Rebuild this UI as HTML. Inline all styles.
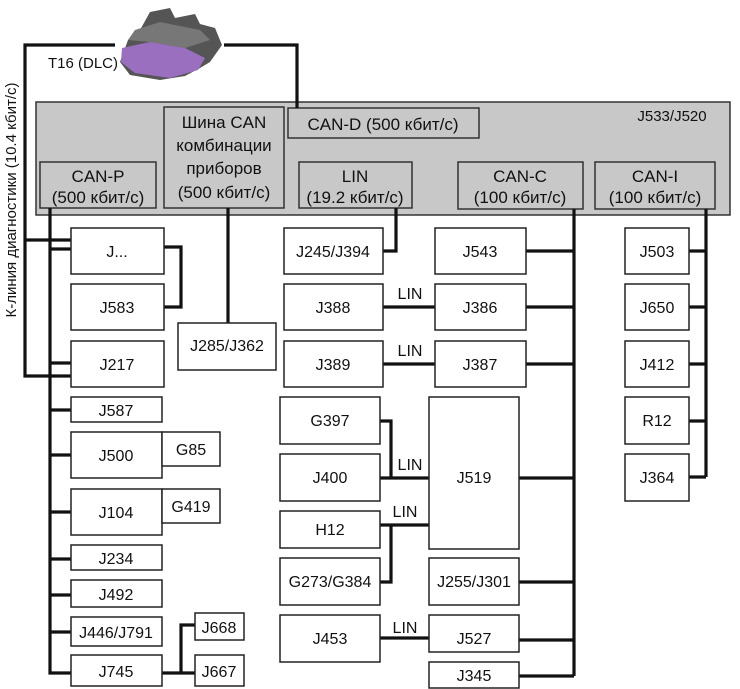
<!DOCTYPE html>
<html><head><meta charset="utf-8"><style>
html,body{margin:0;padding:0;background:#fff;}
svg{display:block;font-family:"Liberation Sans","DejaVu Sans",sans-serif;}
.b{fill:#fff;stroke:#222;stroke-width:1.5}
.g{fill:#c8c8c8;stroke:#333;stroke-width:1.5}
.l{stroke:#111;stroke-width:3.2;fill:none}
text{font-size:16px;fill:#111;text-anchor:middle}
</style></head><body>
<svg width="740" height="689" viewBox="0 0 740 689">
<rect class="g" x="36" y="102" width="694" height="113"/>
<text x="672" y="121" style="font-size:15px">J533/J520</text>
<rect class="g" x="288" y="108" width="191" height="30"/>
<text x="383" y="130" style="font-size:17px">CAN-D (500 кбит/с)</text>
<rect class="g" x="164" y="107" width="120" height="101"/>
<text x="224" y="128" style="font-size:17px">Шина CAN</text>
<text x="224" y="151" style="font-size:17px">комбинации</text>
<text x="224" y="174" style="font-size:17px">приборов</text>
<text x="224" y="198" style="font-size:17px">(500 кбит/с)</text>
<rect class="g" x="40" y="162" width="116" height="46"/>
<text x="98" y="182" style="font-size:17px">CAN-P</text>
<text x="98" y="203" style="font-size:17px">(500 кбит/с)</text>
<rect class="g" x="299" y="162" width="113" height="46"/>
<text x="355" y="182" style="font-size:17px">LIN</text>
<text x="355" y="203" style="font-size:17px">(19.2 кбит/с)</text>
<rect class="g" x="458" y="162" width="125" height="47"/>
<text x="520" y="182" style="font-size:17px">CAN-C</text>
<text x="520" y="203" style="font-size:17px">(100 кбит/с)</text>
<rect class="g" x="595" y="162" width="120" height="47"/>
<text x="655" y="182" style="font-size:17px">CAN-I</text>
<text x="655" y="203" style="font-size:17px">(100 кбит/с)</text>

<g>
<polygon points="150,12 170,8 175,18 195,14 200,24 215,28 222,45 210,62 200,68 185,76 160,80 130,75 120,62 128,40 140,30" fill="#555"/>
<polygon points="122,48 150,42 185,48 205,58 198,70 170,78 135,73 121,62" fill="#9a6fc0"/>
<polygon points="135,30 160,22 200,30 210,40 185,48 150,42 128,40" fill="#777"/>
</g>
<text x="83" y="68" style="font-size:15px">T16 (DLC)</text>
<text transform="translate(16,200) rotate(-90)" style="font-size:15px">К-линия диагностики (10.4 кбит/с)</text>

<path class="l" d="M115,45 H25 V376 H71 M25,240 H71"/>
<path class="l" d="M224,45 H297 V108"/>
<path class="l" d="M50,208 V673 H71 M50,249 H71 M50,363 H71 M50,410 H71 M50,455 H71 M50,512 H71 M50,559 H71 M50,595 H71 M50,632 H71"/>
<path class="l" d="M164,247 H181 V307 H164"/>
<path class="l" d="M162,673 H195 M181,673 V625 H195"/>
<path class="l" d="M228,208 V323"/>
<path class="l" d="M383,251 H396 V208"/>
<path class="l" d="M383,307 H435 M383,364 H435"/>
<path class="l" d="M380,421 H391 V478 M380,478 H429"/>
<path class="l" d="M380,525 H429 M391,525 V582 H380"/>
<path class="l" d="M380,638 H429"/>
<path class="l" d="M574,209 V676 M526,251 H574 M526,307 H574 M526,364 H574 M519,478 H574 M519,582 H574 M519,640 H574 M519,676 H574"/>
<path class="l" d="M706,209 V477 M689,251 H706 M689,307 H706 M689,364 H706 M689,421 H706 M689,477 H706"/>

<rect class="b" x="71" y="228" width="93" height="46"/><text x="117" y="257">J...</text>
<rect class="b" x="71" y="284" width="93" height="46"/><text x="117" y="313">J583</text>
<rect class="b" x="71" y="341" width="93" height="46"/><text x="117" y="370">J217</text>
<rect class="b" x="71" y="397" width="91" height="25"/><text x="116" y="416">J587</text>
<rect class="b" x="71" y="432" width="91" height="46"/><text x="116" y="461">J500</text>
<rect class="b" x="162" y="432" width="58" height="34"/><text x="191" y="455">G85</text>
<rect class="b" x="71" y="489" width="91" height="46"/><text x="116" y="518">J104</text>
<rect class="b" x="162" y="489" width="58" height="34"/><text x="191" y="512">G419</text>
<rect class="b" x="71" y="545" width="91" height="25"/><text x="116" y="564">J234</text>
<rect class="b" x="71" y="580" width="91" height="27"/><text x="116" y="600">J492</text>
<rect class="b" x="71" y="617" width="91" height="29"/><text x="116" y="638">J446/J791</text>
<rect class="b" x="71" y="655" width="91" height="31"/><text x="116" y="677">J745</text>
<rect class="b" x="195" y="613" width="49" height="27"/><text x="219" y="633">J668</text>
<rect class="b" x="195" y="655" width="49" height="31"/><text x="219" y="677">J667</text>
<rect class="b" x="178" y="323" width="98" height="47"/><text x="227" y="351">J285/J362</text>

<rect class="b" x="284" y="228" width="99" height="46"/><text x="333" y="257">J245/J394</text>
<rect class="b" x="284" y="284" width="99" height="46"/><text x="333" y="313">J388</text>
<rect class="b" x="284" y="341" width="99" height="46"/><text x="333" y="370">J389</text>
<rect class="b" x="435" y="228" width="91" height="46"/><text x="480" y="257">J543</text>
<rect class="b" x="435" y="284" width="91" height="46"/><text x="480" y="313">J386</text>
<rect class="b" x="435" y="341" width="91" height="46"/><text x="480" y="370">J387</text>
<text x="410" y="299">LIN</text>
<text x="410" y="356">LIN</text>
<rect class="b" x="280" y="397" width="100" height="47"/><text x="330" y="426">G397</text>
<rect class="b" x="280" y="454" width="100" height="47"/><text x="330" y="483">J400</text>
<rect class="b" x="280" y="511" width="100" height="37"/><text x="330" y="535">H12</text>
<rect class="b" x="280" y="558" width="100" height="47"/><text x="330" y="587">G273/G384</text>
<rect class="b" x="280" y="615" width="100" height="47"/><text x="330" y="644">J453</text>
<text x="410" y="470">LIN</text>
<text x="405" y="517">LIN</text>
<text x="405" y="633">LIN</text>
<rect class="b" x="429" y="397" width="90" height="152"/><text x="474" y="483">J519</text>
<rect class="b" x="429" y="558" width="90" height="47"/><text x="474" y="587">J255/J301</text>
<rect class="b" x="429" y="615" width="90" height="37"/><text x="474" y="644">J527</text>
<rect class="b" x="429" y="662" width="90" height="26"/><text x="474" y="681">J345</text>

<rect class="b" x="625" y="228" width="64" height="46"/><text x="657" y="257">J503</text>
<rect class="b" x="625" y="284" width="64" height="46"/><text x="657" y="313">J650</text>
<rect class="b" x="625" y="341" width="64" height="46"/><text x="657" y="370">J412</text>
<rect class="b" x="625" y="397" width="64" height="47"/><text x="657" y="426">R12</text>
<rect class="b" x="625" y="454" width="64" height="47"/><text x="657" y="483">J364</text>
</svg>
</body></html>
